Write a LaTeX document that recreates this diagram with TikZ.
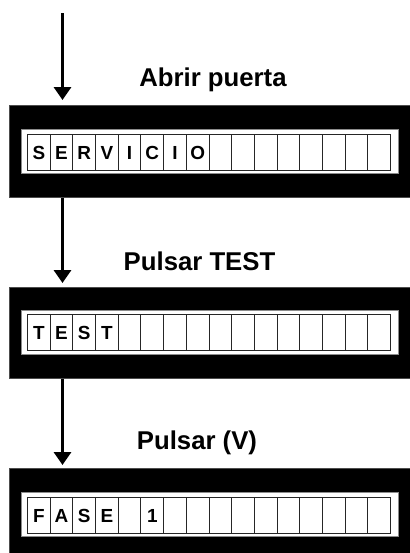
\documentclass[tikz,border=0pt]{standalone}
\usepackage{fontspec}
\setmainfont{Liberation Sans}
\usetikzlibrary{arrows.meta}
\tikzset{
  lcd/.style={fill=black, draw=black!70, line width=0.5pt, inner sep=0pt, anchor=north west, minimum width=301pt},
  win/.style={fill=white, draw=black!45, line width=0.5pt, inner sep=0pt, anchor=north west, minimum width=282.75pt, minimum height=33pt},
  cell/.style={draw=black!85, line width=0.75pt, inner sep=0pt, anchor=north west, minimum width=17.0156pt, minimum height=27pt, text height=10.2pt, text depth=0pt, font=\fontsize{14.2}{16}\selectfont\bfseries},
  lbl/.style={anchor=base, inner sep=0pt, font=\fontsize{19.3}{22}\selectfont\bfseries},
  arr/.style={line width=2.6pt, -{Triangle[width=12.75pt,length=9.75pt]}}
}
\begin{document}
\begin{tikzpicture}[x=0.75pt,y=-0.75pt]
\useasboundingbox (0,0) rectangle (410,553);
% displays
\node[lcd, minimum height=69pt] (box1) at (9,105) {};
\node[lcd, minimum height=68.25pt] (box2) at (9,287) {};
\node[lcd, minimum height=66pt] (box3) at (9,468) {};
\node[win] (win1) at (21,129) {};
\node[win] (win2) at (21,310) {};
\node[win] (win3) at (21,492) {};
\foreach \ch [count=\i from 0] in {S,E,R,V,I,C,I,O,{},{},{},{},{},{},{},{}}
  \node[cell] (a\i) at (27+\i*22.6875,134) {\ch};
\foreach \ch [count=\i from 0] in {T,E,S,T,{},{},{},{},{},{},{},{},{},{},{},{}}
  \node[cell] (b\i) at (27+\i*22.6875,314) {\ch};
\foreach \ch [count=\i from 0] in {F,A,S,E,{},1,{},{},{},{},{},{},{},{},{},{}}
  \node[cell] (c\i) at (27+\i*22.6875,497) {\ch};
% labels
\node[lbl] (l1) at (213,86) {Abrir puerta};
\node[lbl] (l2) at (199.5,270) {Pulsar TEST};
\node[lbl] (l3) at (197,449) {Pulsar (V)};
% arrows
\coordinate (s0) at (62.5,13);
\draw[arr, shorten >=3.75pt] (s0) -- (s0 |- box1.north);
\draw[arr, shorten >=3pt] (s0 |- box1.south) -- (s0 |- box2.north);
\draw[arr, shorten >=2.25pt] (s0 |- box2.south) -- (s0 |- box3.north);
\end{tikzpicture}
\end{document}
